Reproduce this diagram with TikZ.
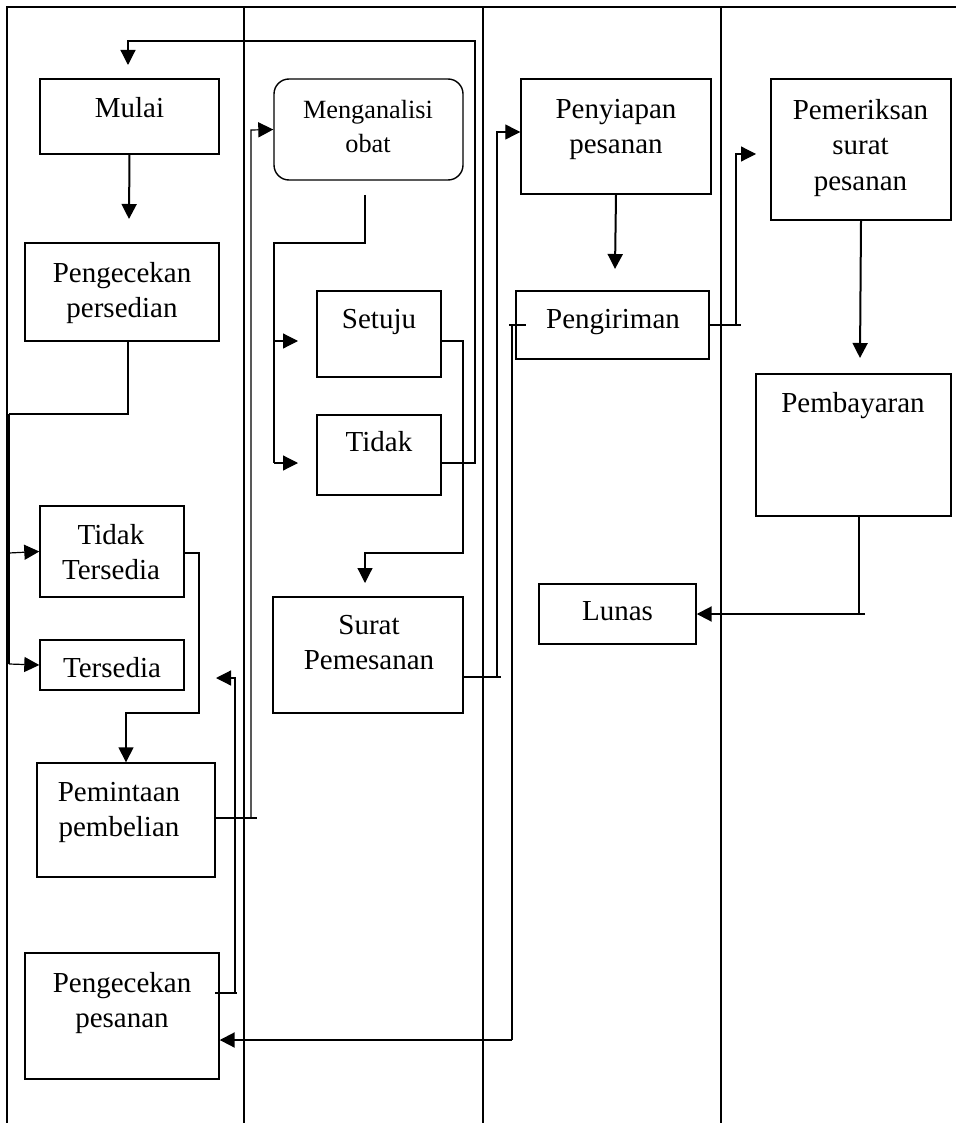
\documentclass[tikz,border=0pt]{standalone}
\usepackage{fontspec}
\setmainfont{Liberation Serif}
\usetikzlibrary{arrows.meta}
\begin{document}
\begin{tikzpicture}[x=1pt,y=-1pt,
  box/.style={draw, line width=1.4pt, inner sep=0pt, rectangle},
  lbl/.style={inner sep=0pt, anchor=north, align=center, font=\fontsize{29}{35.5}\selectfont},
  conn/.style={line width=1.2pt},
  thk/.style={line width=2pt},
  tip/.style={-{Triangle[length=15pt,width=15pt]}},
  lane/.style={line width=2pt}]
\useasboundingbox (0,0) rectangle (956,1123);
% lanes
\draw[lane] (7,1123) -- (7,7) -- (956,7);
\draw[lane] (244,7) -- (244,1123);
\draw[lane] (483,7) -- (483,1123);
\draw[lane] (721,7) -- (721,1123);
% boxes
\node[box, minimum width=179pt, minimum height=75pt] (mulai) at (129.5,116.5) {};
\node[box, minimum width=194pt, minimum height=98pt] (pcks) at (122,292) {};
\node[box, minimum width=144pt, minimum height=91pt] (tts) at (112,551.5) {};
\node[box, minimum width=144pt, minimum height=50pt] (ts) at (112,665) {};
\node[box, minimum width=178pt, minimum height=114pt] (pmb) at (126,820) {};
\node[box, minimum width=194pt, minimum height=126pt] (pcps) at (122,1016) {};
\node[box, rounded corners=15pt, minimum width=189pt, minimum height=101pt] (mng) at (368.5,129.5) {};
\node[box, minimum width=124pt, minimum height=86pt] (stj) at (379,334) {};
\node[box, minimum width=124pt, minimum height=80pt] (tdk) at (379,455) {};
\node[box, minimum width=190pt, minimum height=116pt] (srt) at (368,655) {};
\node[box, minimum width=190pt, minimum height=115pt] (pny) at (616,136.5) {};
\node[box, minimum width=193pt, minimum height=68pt] (krm) at (612.5,325) {};
\node[box, minimum width=180pt, minimum height=141pt] (prk) at (861,149.5) {};
\node[box, minimum width=195pt, minimum height=142pt] (byr) at (853.5,445) {};
\node[box, minimum width=157pt, minimum height=60pt] (lns) at (617.5,614) {};
% labels
\node[lbl] (mulai-t) at (129.5,97) {Mulai};
\node[lbl] (pcks-t) at (122,262) {Pengecekan\\persedian};
\node[lbl, font=\fontsize{26.3}{34}\selectfont] (mng-t) at (368,100) {Menganalisi\\obat};
\node[lbl] (stj-t) at (379,309) {Setuju};
\node[lbl] (tdk-t) at (379,431) {Tidak};
\node[lbl] (tts-t) at (111,524) {Tidak\\Tersedia};
\node[lbl] (ts-t) at (112,657) {Tersedia};
\node[lbl] (srt-t) at (369,615) {Surat\\Pemesanan};
\node[lbl] (pmb-t) at (119,782) {Pemintaan\\pembelian};
\node[lbl] (pcps-t) at (122,972) {Pengecekan\\pesanan};
\node[lbl] (pny-t) at (616,99) {Penyiapan\\pesanan};
\node[lbl] (krm-t) at (613,309) {Pengiriman};
\node[lbl] (prk-t) at (860.5,99) {Pemeriksan\\surat\\pesanan};
\node[lbl] (byr-t) at (853,392) {Pembayaran};
\node[lbl] (lns-t) at (617.5,601) {Lunas};
% free-end coordinates
\coordinate (e1) at (128,65);
\coordinate (e2) at (129,219);
\coordinate (bus0) at (9,414);
\coordinate (bus1) at (9,553);
\coordinate (bus2) at (9,664);
\coordinate (m0) at (365,195);
\coordinate (a1) at (298,341);
\coordinate (a2) at (298,463);
\coordinate (e7) at (365,583);
\coordinate (e9) at (615,269);
\coordinate (e10) at (756,154);
\coordinate (e11) at (860,358);
\coordinate (e14) at (216,678);
% connectors
\draw[conn,tip] (tdk.east |- 0,463) -- (475,463) -- (475,41) -- (128,41) -- (e1);
\draw[thk,tip] (mulai.south) -- (e2);
\draw[conn] ([xshift=6pt]pcks.south) -- (128,414) -- (bus0);
\draw[line width=2.4pt] (bus0) -- (bus2);
\draw[conn,tip] (bus1) -- (tts.west);
\draw[conn,tip] (bus2) -- (ts.west);
\draw[line width=1.4pt,tip] (tts.east |- 0,553) -- (199,553) -- (199,713) -- (126,713) -- (pmb.north);
\draw[conn] (pmb.east |- 0,818) -- (257,818);
\draw[conn,tip] (251,818) -- (251,130) -- (mng.west);
\draw[conn] (m0) -- (365,243) -- (274,243) -- (274,463);
\draw[conn,tip] (274,341) -- (a1);
\draw[conn,tip] (274,463) -- (a2);
\draw[conn,tip] (stj.east |- 0,341) -- (463,341) -- (463,553) -- (365,553) -- (e7);
\draw[conn] (srt.east |- 0,677) -- (501,677);
\draw[conn,tip] (497,677) -- (497,132) -- (pny.west |- 0,132);
\draw[thk,tip] (pny.south) -- (e9);
\draw[conn] (krm.east) -- (741,325);
\draw[conn,tip] (736,325) -- (736,154) -- (e10);
\draw[thk,tip] (prk.south) -- (e11);
\draw[conn] ([xshift=5.5pt]byr.south) -- (859,614);
\draw[thk,tip] (865,614) -- (lns.east);
\draw[conn] (509,325) -- (526,325);
\draw[conn] (512,325) -- (512,1040);
\draw[thk,tip] (512,1040) -- (pcps.east |- 0,1040);
\draw[conn] (215,993) -- (237,993);
\draw[conn,tip] (235,993) -- (235,678) -- (e14);
\end{tikzpicture}
\end{document}
